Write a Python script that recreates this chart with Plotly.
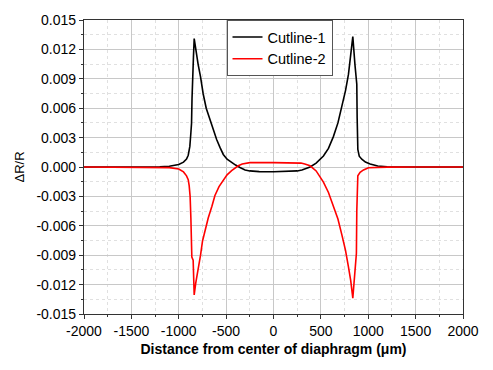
import plotly.graph_objects as go

# Cutline-1 (black)
x1 = [-2000, -1500, -1200, -1100, -1000, -950, -918, -900, -883, -872, -865, -860, -854,
      -845, -837, -825, -795, -770, -742, -710, -671, -635, -600, -565, -530, -490, -442, -400, -354, -300,
      -250, -150, 0, 150, 250, 300, 350, 386, 450, 527, 580, 632, 680, 721, 760, 791, 815,
      837, 860, 879, 883, 890, 905, 932, 970, 1020, 1100, 1200, 1500, 2000]
y1 = [0, 0, 0.00003, 0.00008, 0.00025, 0.0005, 0.0008, 0.0012, 0.0021, 0.0035, 0.00445, 0.007, 0.00945,
      0.0112, 0.0131, 0.0123, 0.01045, 0.0092, 0.00745, 0.006, 0.0048, 0.0037, 0.0028, 0.0020, 0.00128, 0.0008, 0.00045, 0.0002, -0.00005, -0.0003,
      -0.0004, -0.00047, -0.00048, -0.00047, -0.0004, -0.0003, -0.00015, 0.0, 0.0004, 0.00112, 0.0019, 0.0031, 0.0045, 0.0061, 0.0078, 0.00945, 0.0112,
      0.0133, 0.0104, 0.00845, 0.005, 0.0018, 0.0011, 0.0008, 0.0005, 0.0003, 0.0001, 0.00003, 0, 0]

# Cutline-2 (red)
x2 = [-2000, -1500, -1200, -1100, -1000, -950, -918, -900, -890, -880, -872, -867, -862, -848,
      -837, -820, -795, -770, -749, -720, -689, -650, -618, -575, -530, -490, -442, -400, -372, -330, -290,
      -250, 0, 250, 290, 330, 386, 450, 527, 580, 632, 680, 721, 760, 791, 815, 837, 855, 870, 875,
      879, 882, 890, 914, 950, 1002, 1100, 1200, 1500, 2000]
y2 = [0, 0, -0.00003, -0.00006, -0.0002, -0.0005, -0.0009, -0.0013, -0.0019, -0.003, -0.0052, -0.0075, -0.0092, -0.0095,
      -0.01305, -0.0118, -0.01055, -0.0090, -0.00755, -0.0064, -0.0052, -0.0040, -0.0029, -0.0020, -0.00138, -0.0008, -0.00038, -0.00005, 0.00012, 0.0003, 0.0004,
      0.00045, 0.00045, 0.00045, 0.0004, 0.0003, 0.00012, -0.0004, -0.00155, -0.0026, -0.0039, -0.0053, -0.0069, -0.0085, -0.0102, -0.0116, -0.01338, -0.0108, -0.009, -0.0088,
      -0.0045, -0.0019, -0.0009, -0.00055, -0.0003, -0.00008, -0.00003, -0.00001, 0, 0]

y_ticks = [-0.015, -0.012, -0.009, -0.006, -0.003, 0.0, 0.003, 0.006, 0.009, 0.012, 0.015]
y_ticktext = ["-0.015", "-0.012", "-0.009", "-0.006", "-0.003", "0.000", "0.003", "0.006", "0.009", "0.012", "0.015"]
x_ticks = [-2000, -1500, -1000, -500, 0, 500, 1000, 1500, 2000]
x_ticktext = ["-2000", "-1500", "-1000", "-500", "0", "500", "1000", "1500", "2000"]

fig = go.Figure()
fig.add_trace(go.Scatter(x=x1, y=y1, mode="lines", name="Cutline-1",
                         line=dict(color="black", width=1.6)))
fig.add_trace(go.Scatter(x=x2, y=y2, mode="lines", name="Cutline-2",
                         line=dict(color="#ff0000", width=1.6)))

font_family = "Liberation Sans, Arial, sans-serif"
common = dict(showline=True, linecolor="#333333", linewidth=1.2, mirror=True,
              ticks="outside", ticklen=4, tickcolor="#333333",
              showgrid=True, gridcolor="#c8c8c8", gridwidth=1, zeroline=False,
              tickfont=dict(family=font_family, size=14, color="black"))

fig.update_xaxes(range=[-2000, 2000], tickmode="array", tickvals=x_ticks, ticktext=x_ticktext,
                 minor=dict(dtick=250, tick0=-2000, ticks="outside", ticklen=2, tickcolor="#333333",
                            showgrid=True, gridcolor="#e0e0e0", griddash="dot"),
                 title=dict(text="<b>Distance from center of diaphragm (\u03bcm)</b>",
                            font=dict(family=font_family, size=14, color="black"), standoff=6),
                 **common)
fig.update_yaxes(range=[-0.015, 0.015], tickmode="array", tickvals=y_ticks, ticktext=y_ticktext,
                 minor=dict(dtick=0.0015, tick0=-0.015, ticks="outside", ticklen=2, tickcolor="#333333",
                            showgrid=True, gridcolor="#e0e0e0", griddash="dot"),
                 title=dict(text="\u0394R/R", font=dict(family=font_family, size=13, color="black"), standoff=8),
                 **common)

fig.update_layout(
    width=493, height=370,
    margin=dict(l=84, r=30, t=15, b=56),
    plot_bgcolor="white", paper_bgcolor="white",
    showlegend=True,
    legend=dict(x=0.376, y=1.0, xanchor="left", yanchor="top",
                bgcolor="white", bordercolor="#555555", borderwidth=1,
                font=dict(family=font_family, size=14.5, color="black"),
                tracegroupgap=0),
)

fig.write_html("out.html")
